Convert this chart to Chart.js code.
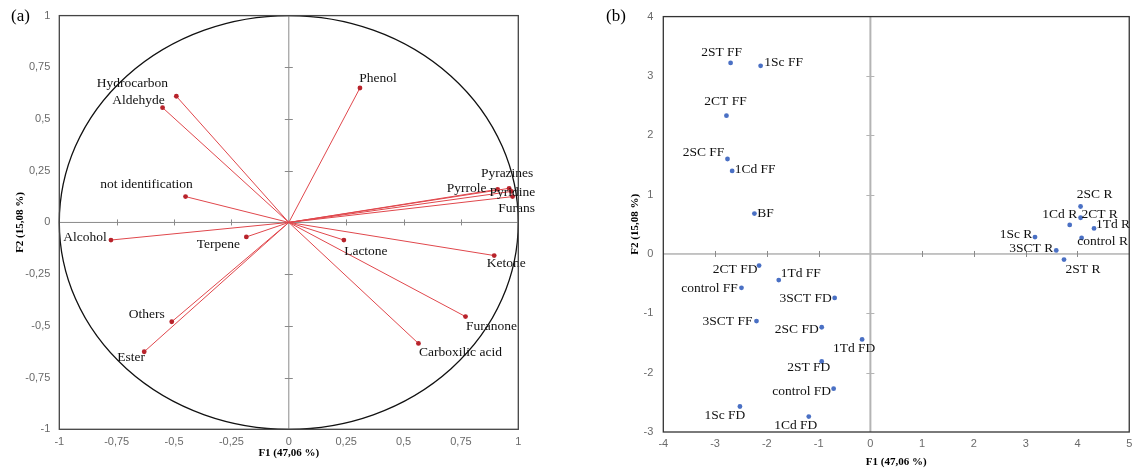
<!DOCTYPE html>
<html><head><meta charset="utf-8">
<script src="https://cdn.jsdelivr.net/npm/chart.js@4.4.1/dist/chart.umd.min.js"></script>
<style>
html,body{margin:0;padding:0;background:#fff;}
#wrap{position:relative;width:1138px;height:470px;overflow:hidden;background:#fff;}
.pane{position:absolute;top:0;}
.tag{position:absolute;font-family:"Liberation Serif",serif;font-size:17px;color:#000;line-height:1;}
</style></head><body>
<div id="wrap">
  <div class="pane" style="left:0;width:560px;height:470px"><canvas id="ca" width="560" height="470"></canvas></div>
  <div class="pane" style="left:560px;width:578px;height:470px"><canvas id="cb" width="578" height="470"></canvas></div>
  <div class="tag" style="left:11px;top:7px">(a)</div>
  <div class="tag" style="left:606px;top:7px">(b)</div>
</div>
<script>
// ---------- DATA ----------
const variables = ['Hydrocarbon','Aldehyde','not identification','Phenol','Pyrazines','Pyrrole','Pyridine','Furans','Alcohol','Terpene','Lactone','Ketone','Furanone','Carboxilic acid','Others','Ester'];
const varF1 = [-0.49,-0.55,-0.45,0.31,0.96,0.91,0.97,0.975,-0.775,-0.185,0.24,0.895,0.77,0.565,-0.51,-0.63];
const varF2 = [0.61,0.555,0.125,0.65,0.165,0.16,0.15,0.125,-0.085,-0.07,-0.085,-0.16,-0.455,-0.585,-0.48,-0.625];

const samples = ['2ST FF','1Sc FF','2CT FF','2SC FF','1Cd FF','BF','2CT FD','1Td FF','control FF','3SCT FD','3SCT FF','2SC FD','1Td FD','2ST FD','control FD','1Sc FD','1Cd FD','2SC R','1Cd R','2CT R','1Td R','1Sc R','control R','3SCT R','2ST R'];
const obsF1 = [-2.70,-2.12,-2.78,-2.76,-2.67,-2.24,-2.15,-1.77,-2.49,-0.69,-2.20,-0.94,-0.16,-0.94,-0.71,-2.52,-1.19,4.06,3.85,4.06,4.32,3.18,4.08,3.59,3.74];
const obsF2 = [3.22,3.17,2.33,1.60,1.40,0.68,-0.195,-0.44,-0.57,-0.74,-1.13,-1.235,-1.44,-1.81,-2.27,-2.57,-2.74,0.80,0.49,0.61,0.43,0.285,0.27,0.06,-0.095];

const xTicksA = ['-1','-0,75','-0,5','-0,25','0','0,25','0,5','0,75','1'];
const yTicksA = ['-1','-0,75','-0,5','-0,25','0','0,25','0,5','0,75','1'];
const xTicksB = ['-4','-3','-2','-1','0','1','2','3','4','5'];
const yTicksB = ['-3','-2','-1','0','1','2','3','4'];
const axisTitleX = 'F1 (47,06 %)';
const axisTitleY = 'F2 (15,08 %)';

// ---------- label placement (pixel offsets of text centre from its point) ----------
const varLabelOffset = [[-44,-13],[-24,-7],[-39,-12],[18,-10],[-2,-15],[-31,-1],[1,1],[4,12],[-26,-3],[-28,8],[22,11],[12,8],[26,10],[42,9],[-25,-7],[-13,6]];
const obsLabelOffset = [[-9,-10],[23,-3],[-1,-14],[-24,-7],[23,-1],[11,0],[-24,4],[22,-7],[-32,1],[-29,1],[-29,0],[-25,2],[-8,9],[-13,6],[-32,3],[-15,9],[-13,9],[14,-12],[-10,-10],[19,-3],[19,-4],[-19,-3],[21,4],[-25,-2],[19,10]];

// ---------- plugins ----------
const axesPlugin = {
  id: 'axesPlugin',
  beforeDatasetsDraw(chart, args, o) {
    const {ctx, chartArea: a, scales: {x, y}} = chart;
    const x0 = x.getPixelForValue(0), y0 = y.getPixelForValue(0);
    ctx.save();
    if (o.circle) {
      ctx.beginPath();
      ctx.ellipse(x0, y0, x.getPixelForValue(1) - x0, y0 - y.getPixelForValue(1), 0, 0, Math.PI * 2);
      ctx.strokeStyle = '#111'; ctx.lineWidth = 1.3; ctx.stroke();
    }
    ctx.strokeStyle = o.hColor; ctx.lineWidth = o.hWidth;
    ctx.beginPath(); ctx.moveTo(a.left, y0); ctx.lineTo(a.right, y0); ctx.stroke();
    ctx.strokeStyle = o.vColor; ctx.lineWidth = o.vWidth;
    ctx.beginPath(); ctx.moveTo(x0, a.top); ctx.lineTo(x0, a.bottom); ctx.stroke();
    ctx.strokeStyle = o.hColor; ctx.lineWidth = 1;
    x.ticks.forEach(t => {
      if (t.value === 0 || t.value === x.min || t.value === x.max) return;
      const p = Math.round(x.getPixelForValue(t.value)) + 0.5;
      ctx.beginPath(); ctx.moveTo(p, y0 - 3); ctx.lineTo(p, y0 + 3); ctx.stroke();
    });
    ctx.strokeStyle = o.vColor;
    y.ticks.forEach(t => {
      if (t.value === 0 || t.value === y.min || t.value === y.max) return;
      const p = Math.round(y.getPixelForValue(t.value)) + 0.5;
      ctx.beginPath(); ctx.moveTo(x0 - 4, p); ctx.lineTo(x0 + 4, p); ctx.stroke();
    });
    ctx.restore();
  },
  afterDraw(chart, args, o) {
    const {ctx, chartArea: a} = chart;
    ctx.save();
    ctx.strokeStyle = o.frame; ctx.lineWidth = 1.3;
    ctx.strokeRect(a.left, a.top, a.right - a.left, a.bottom - a.top);
    ctx.restore();
  }
};
const labelPlugin = {
  id: 'labelPlugin',
  afterDatasetsDraw(chart, args, o) {
    const {ctx, scales: {x, y}} = chart;
    ctx.save();
    ctx.font = '13.5px "Liberation Serif", serif';
    ctx.fillStyle = '#111';
    ctx.textAlign = 'center'; ctx.textBaseline = 'middle';
    o.names.forEach((n, i) => {
      const px = x.getPixelForValue(o.xs[i]) + o.off[i][0];
      const py = y.getPixelForValue(o.ys[i]) + o.off[i][1];
      ctx.fillText(n, px, py);
    });
    ctx.restore();
  }
};

const tickFont = {family: '"Liberation Sans", Arial, sans-serif', size: 11};
const tickColor = '#6a6a6a';
const titleFont = {family: '"Liberation Serif", serif', size: 11, weight: 'bold'};

function makeScales(xl, yl, range, opt) {
  return {
    x: {
      type: 'linear', min: range[0], max: range[1],
      ticks: {stepSize: range[4], autoSkip: false, maxRotation: 0, font: tickFont, color: tickColor, padding: opt.xPad,
              callback: (v, i) => xl[i]},
      grid: {display: false, drawTicks: false}, border: {display: false},
      title: {display: true, text: axisTitleX, font: titleFont, color: '#000', padding: {top: 0, bottom: opt.xTitlePad}},
      afterFit: s => { s.height = opt.xH; }
    },
    y: {
      type: 'linear', min: range[2], max: range[3],
      ticks: {stepSize: range[5], autoSkip: false, font: tickFont, color: tickColor, padding: opt.yPad,
              callback: (v, i) => yl[i]},
      grid: {display: false, drawTicks: false}, border: {display: false},
      title: {display: true, text: axisTitleY, font: titleFont, color: '#000', padding: {top: opt.yTitlePad, bottom: 0}},
      afterFit: s => { s.width = opt.yW; }
    }
  };
}

// ---------- chart (a) ----------
const vecDatasets = variables.map((n, i) => ({
  label: n,
  data: [{x: 0, y: 0}, {x: varF1[i], y: varF2[i]}],
  showLine: true,
  borderColor: '#e0474c',
  borderWidth: 1,
  pointRadius: [0, 2.4],
  pointBackgroundColor: '#b8232b',
  pointBorderWidth: 0
}));
new Chart(document.getElementById('ca'), {
  type: 'scatter',
  data: {datasets: vecDatasets},
  options: {
    responsive: false, animation: false, devicePixelRatio: 1,
    layout: {padding: {left: 0, right: 41.7, top: 15, bottom: 0}},
    scales: makeScales(xTicksA, yTicksA, [-1, 1, -1, 1, 0.25, 0.25],
      {xPad: 6.4, xTitlePad: 10.7, xH: 40.7, yPad: 9, yTitlePad: 13.4, yW: 59.3}),
    plugins: {
      legend: {display: false}, tooltip: {enabled: false},
      axesPlugin: {circle: true, hColor: '#8a8a8a', hWidth: 1, vColor: '#8a8a8a', vWidth: 1, frame: '#444'},
      labelPlugin: {names: variables, xs: varF1, ys: varF2, off: varLabelOffset}
    }
  },
  plugins: [axesPlugin, labelPlugin]
});

// ---------- chart (b) ----------
new Chart(document.getElementById('cb'), {
  type: 'scatter',
  data: {datasets: [{
    label: 'observations',
    data: samples.map((n, i) => ({x: obsF1[i], y: obsF2[i]})),
    pointRadius: 2.4,
    pointBackgroundColor: '#4a70c4',
    pointBorderWidth: 0
  }]},
  options: {
    responsive: false, animation: false, devicePixelRatio: 1,
    layout: {padding: {left: 0, right: 4, top: 14, bottom: 0}},
    scales: makeScales(xTicksB, yTicksB, [-4, 5, -3, 4, 1, 1],
      {xPad: 5.7, xTitlePad: 1.4, xH: 38, yPad: 10, yTitlePad: 68.4, yW: 103.3}),
    plugins: {
      legend: {display: false}, tooltip: {enabled: false},
      axesPlugin: {circle: false, hColor: '#8a8a8a', hWidth: 1, vColor: '#b4b4b4', vWidth: 2, frame: '#333'},
      labelPlugin: {names: samples, xs: obsF1, ys: obsF2, off: obsLabelOffset}
    }
  },
  plugins: [axesPlugin, labelPlugin]
});
</script>
</body></html>
